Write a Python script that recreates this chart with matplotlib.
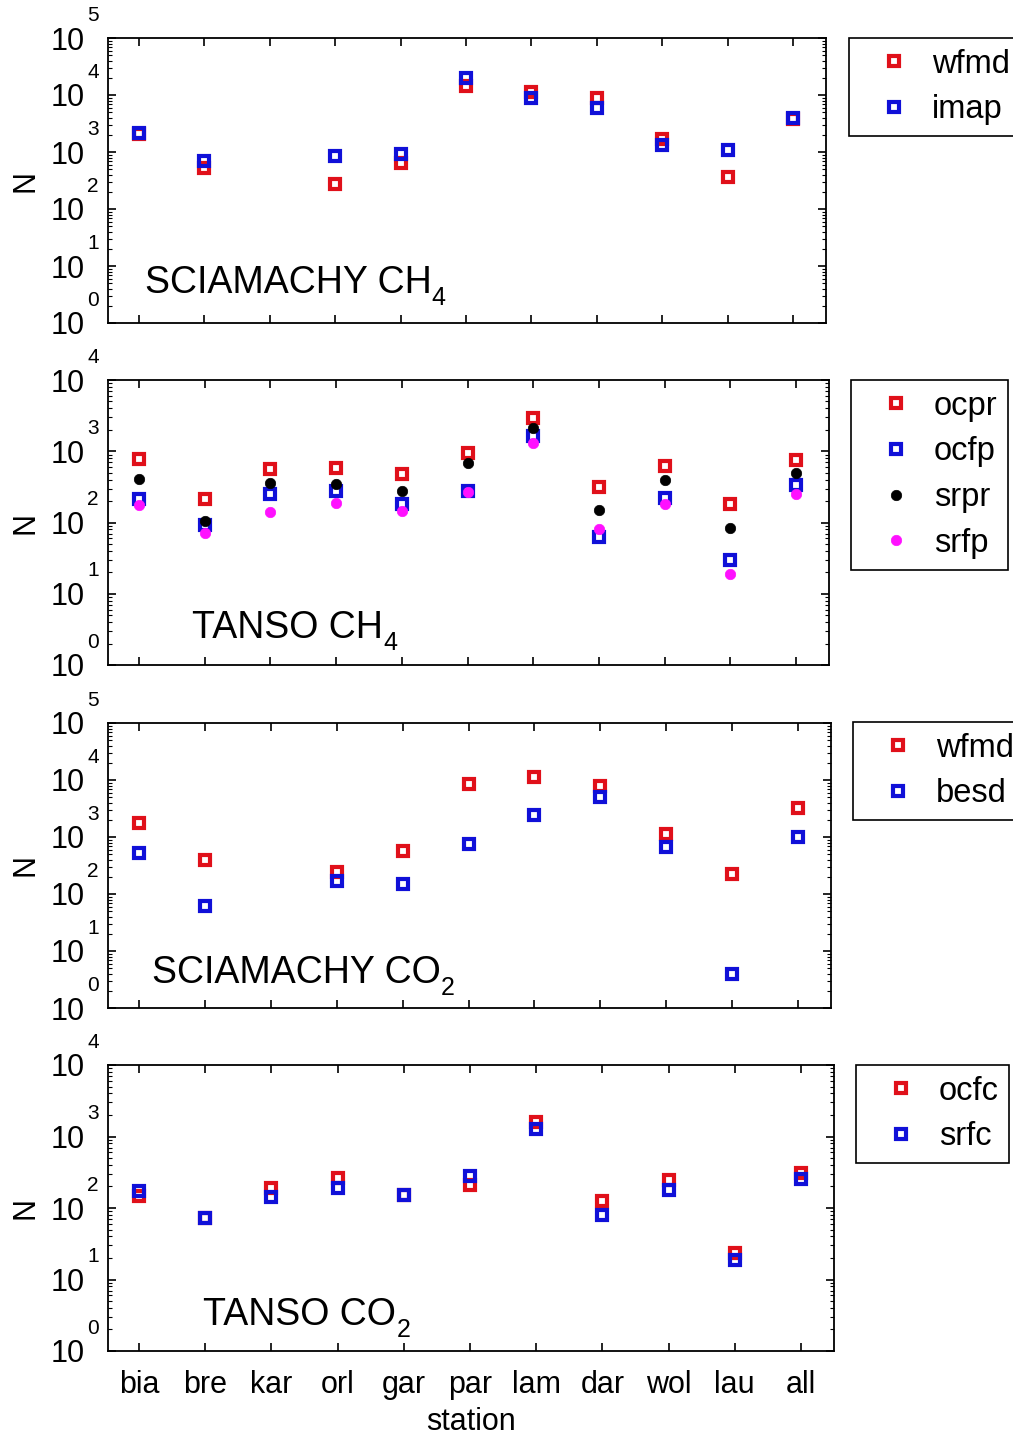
import numpy as np
import matplotlib
matplotlib.use("Agg")
import matplotlib.pyplot as plt
from matplotlib.ticker import LogLocator, NullFormatter, FixedLocator

plt.rcParams['font.family'] = ['Liberation Sans', 'DejaVu Sans']

nan = np.nan
stations = ['bia', 'bre', 'kar', 'orl', 'gar', 'par', 'lam', 'dar', 'wol', 'lau', 'all']

sc_ch4_wfmd = [2100, 520, nan, 275, 640, 14400, 11500, 8900, 1700, 365, 3800]
sc_ch4_imap = [2150, 690, nan, 850, 920, 19500, 8800, 5900, 1320, 1090, 4000]

tanso_ch4_ocpr = [785, 211, 556, 580, 473, 955, 2910, 314, 612, 184, 742]
tanso_ch4_ocfp = [211, 91, 248, 276, 180, 276, 1660, 63, 224, 29.5, 339]
tanso_ch4_srpr = [412, 104, 357, 351, 276, 681, 2130, 152, 390, 84, 501]
tanso_ch4_srfp = [174, 71, 140, 190, 144, 267, 1320, 82, 180, 18.8, 254]

sc_co2_wfmd = [1740, 395, nan, 247, 575, 8600, 11400, 7900, 1130, 225, 3170]
sc_co2_besd = [531, 62, nan, 172, 148, 754, 2430, 5080, 660, 4.0, 988]

tanso_co2_ocfc = [148, 73, 193, 267, 150, 208, 1590, 124, 245, 23.6, 313]
tanso_co2_srfc = [173, 73, 143, 193, 150, 278, 1290, 79, 181, 19, 252]

RED = '#e0101a'
BLUE = '#1010d8'
BLACK = '#000000'
MAG = '#ff10ff'

W, H = 1013, 1435
fig = plt.figure(figsize=(W / 100, H / 100), dpi=100)

panels = [
    dict(box=(108, 826, 38, 323), ymax=5, title=('SCIAMACHY CH', '4'), tpos=(0.0515, 0.105),
         leg=(849, 38),
         series=[('wfmd', sc_ch4_wfmd, 's', RED), ('imap', sc_ch4_imap, 's', BLUE)]),
    dict(box=(108, 829, 380, 665), ymax=4, title=('TANSO CH', '4'), tpos=(0.117, 0.095),
         leg=(851, 380),
         series=[('ocpr', tanso_ch4_ocpr, 's', RED), ('ocfp', tanso_ch4_ocfp, 's', BLUE),
                 ('srpr', tanso_ch4_srpr, 'o', BLACK), ('srfp', tanso_ch4_srfp, 'o', MAG)]),
    dict(box=(108, 831, 723, 1008), ymax=5, title=('SCIAMACHY CO', '2'), tpos=(0.061, 0.088),
         leg=(853, 722),
         series=[('wfmd', sc_co2_wfmd, 's', RED), ('besd', sc_co2_besd, 's', BLUE)]),
    dict(box=(108, 834, 1065, 1351), ymax=4, title=('TANSO CO', '2'), tpos=(0.1315, 0.091),
         leg=(856, 1065),
         series=[('ocfc', tanso_co2_ocfc, 's', RED), ('srfc', tanso_co2_srfc, 's', BLUE)]),
]

x = np.arange(1, len(stations) + 1)
FS = 22

for i, p in enumerate(panels):
    l, r, t, b = p['box']
    ax = fig.add_axes([l / W, 1 - b / H, (r - l) / W, (b - t) / H])
    ax.set_yscale('log')
    ax.set_ylim(1, 10 ** p['ymax'])
    ax.set_xlim(0.53, 11.5)
    for name, vals, mk, col in p['series']:
        if mk == 's':
            ax.plot(x, vals, linestyle='none', marker='s', ms=6.5, mfc='none', mec=col,
                    mew=3.0, label=name)
        else:
            ax.plot(x, vals, linestyle='none', marker='o', ms=7.5, mfc=col, mec=col,
                    mew=0.5, label=name)
    ax.xaxis.set_major_locator(FixedLocator(x))
    if i == 3:
        ax.set_xticklabels(stations, fontsize=FS)
        ax.set_xlabel('station', fontsize=FS)
        ax.xaxis.set_label_coords(0.5, -(1407 - 1351) / (b - t))
    else:
        ax.set_xticklabels([])
    decades = [10.0 ** e for e in range(0, p['ymax'] + 1)]
    ax.yaxis.set_major_locator(FixedLocator(decades))
    ax.set_yticklabels(['10'] * len(decades), fontsize=FS)
    ax.yaxis.set_minor_locator(LogLocator(base=10, subs=np.arange(2, 10), numticks=20))
    ax.yaxis.set_minor_formatter(NullFormatter())
    ax.tick_params(axis='both', which='major', direction='in', length=6, width=1.2,
                   top=True, right=True)
    ax.tick_params(axis='y', which='major', pad=17)
    ax.tick_params(axis='x', which='major', pad=14)
    ax.tick_params(axis='y', which='minor', direction='in', length=3, width=0.8,
                   left=True, right=True)
    for e in range(0, p['ymax'] + 1):
        ax.annotate(str(e), xy=(0, 10.0 ** e), xycoords=ax.get_yaxis_transform(),
                    xytext=(-15, 16.5), textcoords='offset points', ha='left',
                    va='center', fontsize=15, annotation_clip=False)
    for s in ax.spines.values():
        s.set_linewidth(1.3)
    ax.set_ylabel('N', fontsize=FS, va='center')
    ax.yaxis.set_label_coords(-(108 - 25) / (r - l), 0.5)
    main = ax.text(p['tpos'][0], p['tpos'][1], p['title'][0], transform=ax.transAxes,
                   fontsize=27, ha='left', va='baseline')
    ax.annotate(p['title'][1], xy=(1, 0), xycoords=main, xytext=(0, -3),
                textcoords='offset points', fontsize=18, ha='left', va='baseline')
    leg = ax.legend(loc='upper left', bbox_to_anchor=(p['leg'][0] / W, 1 - p['leg'][1] / H),
                    bbox_transform=fig.transFigure, borderaxespad=0, fontsize=23.5,
                    frameon=True, fancybox=False, framealpha=1, edgecolor='black',
                    handlelength=2.08, handletextpad=0.12, borderpad=0.33,
                    labelspacing=0.45, numpoints=1)
    leg.get_frame().set_linewidth(1.2)

fig.savefig('out.png', dpi=100)
